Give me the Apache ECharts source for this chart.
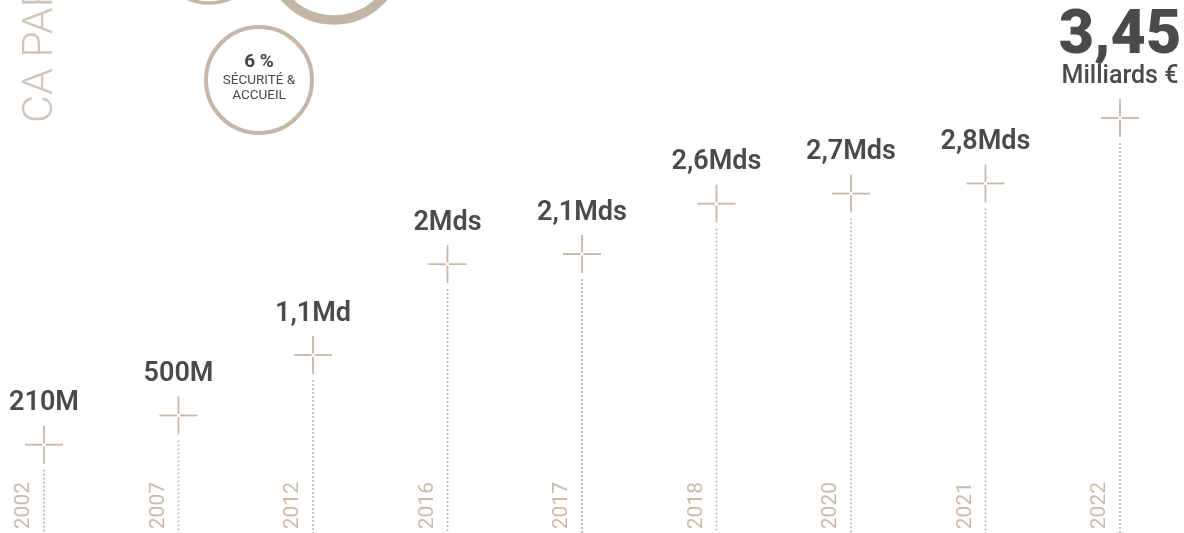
<!DOCTYPE html>
<html>
<head>
<meta charset="utf-8">
<script src="https://cdn.jsdelivr.net/npm/echarts@6/dist/echarts.min.js"></script>
<style>
html,body{margin:0;padding:0;background:#fff;}
#chart{width:1184px;height:533px;}
</style>
</head>
<body>
<div id="chart"></div>
<script>
// Data (chiffre d'affaires, en milliards d'euros)
const years = ['2002', '2007', '2012', '2016', '2017', '2018', '2020', '2021', '2022'];
const revenue = [0.21, 0.5, 1.1, 2.0, 2.1, 2.6, 2.7, 2.8, 3.45];
const valueLabels = ['210M', '500M', '1,1Md', '2Mds', '2,1Mds', '2,6Mds', '2,7Mds', '2,8Mds', '3,45'];
const lastUnit = 'Milliards €';

const BEIGE = '#c6b8a6';
const DARK = '#4a4a4a';
const DOT = '#aebaba';

const chart = echarts.init(document.getElementById('chart'));

function renderItem(params, api) {
  const i = api.value(0);
  const v = api.value(1);
  const p = api.coord([i, v]);
  const H = api.getHeight();
  const x = p[0], y = p[1];
  const arm = 19, gap = 1.5;
  const crossStyle = { stroke: BEIGE, lineWidth: 1.8 };
  const children = [
    { type: 'line', shape: { x1: x, y1: y + 25, x2: x, y2: H }, style: { stroke: DOT, lineWidth: 1.8, lineDash: [1.8, 2.2] } },
    { type: 'line', shape: { x1: x - arm, y1: y, x2: x - gap, y2: y }, style: crossStyle },
    { type: 'line', shape: { x1: x + gap, y1: y, x2: x + arm, y2: y }, style: crossStyle },
    { type: 'line', shape: { x1: x, y1: y - arm, x2: x, y2: y - gap }, style: crossStyle },
    { type: 'line', shape: { x1: x, y1: y + gap, x2: x, y2: y + arm }, style: crossStyle }
  ];
  const idx = params.dataIndex;
  if (idx === valueLabels.length - 1) {
    children.push({
      type: 'text', x: x, y: y - 41,
      style: { text: lastUnit, fill: DARK, font: '500 25px Roboto', align: 'center', verticalAlign: 'middle' }
    });
    children.push({
      type: 'text', x: x, y: y - 80,
      style: { text: valueLabels[idx], fill: DARK, font: '900 61px Roboto', align: 'center', verticalAlign: 'middle' }
    });
  } else {
    children.push({
      type: 'text', x: x, y: y - 41,
      style: { text: valueLabels[idx], fill: DARK, font: '600 27px Roboto', align: 'center', verticalAlign: 'middle' }
    });
  }
  return { type: 'group', children: children };
}

const option = {
  backgroundColor: '#ffffff',
  animation: false,
  grid: { left: 44, right: 64, top: 12, bottom: 55, containLabel: false },
  xAxis: {
    type: 'category',
    data: years,
    boundaryGap: false,
    axisLine: { show: false },
    axisTick: { show: false },
    splitLine: { show: false },
    axisLabel: {
      rotate: 90,
      margin: 4,
      color: '#c7baa8',
      fontSize: 21,
      fontWeight: 400,
      fontFamily: 'Roboto',
      verticalAlign: 'bottom',
      lineHeight: 40
    }
  },
  yAxis: {
    type: 'value',
    min: -0.12,
    max: 4.5,
    show: false,
    splitLine: { show: false }
  },
  series: [{
    type: 'custom',
    renderItem: renderItem,
    clip: false,
    data: revenue.map((v, i) => [i, v])
  }],
  graphic: [
    {
      type: 'text', x: 63, y: 123, rotation: Math.PI / 2,
      style: { text: 'CA PAR ACTIVITÉ', fill: '#d0c5b8', font: '300 43px Roboto', align: 'left', verticalAlign: 'bottom' }
    },
    { type: 'circle', shape: { cx: 209, cy: -50, r: 53 }, style: { fill: 'none', stroke: '#c4b7a8', lineWidth: 3.5 } },
    { type: 'circle', shape: { cx: 334, cy: -45, r: 65 }, style: { fill: 'none', stroke: '#c2b5a6', lineWidth: 9.5 } },
    { type: 'circle', shape: { cx: 259, cy: 80, r: 53 }, style: { fill: '#fff', stroke: '#c4b7a8', lineWidth: 4 } },
    { type: 'text', x: 259, y: 62, style: { text: '6 %', fill: '#444', font: '700 19px Roboto', align: 'center', verticalAlign: 'middle' } },
    { type: 'text', x: 259, y: 81, style: { text: 'SÉCURITÉ &', fill: DARK, font: '400 13.5px Roboto', align: 'center', verticalAlign: 'middle' } },
    { type: 'text', x: 259, y: 96, style: { text: 'ACCUEIL', fill: DARK, font: '400 13.5px Roboto', align: 'center', verticalAlign: 'middle' } }
  ]
};
chart.setOption(option);
</script>
</body>
</html>
